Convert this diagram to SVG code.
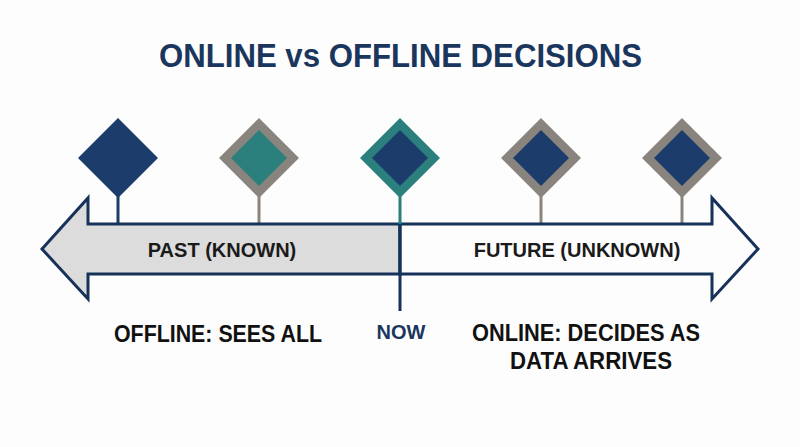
<svg xmlns="http://www.w3.org/2000/svg" width="800" height="447" viewBox="0 0 800 447">
<style>
.title{font-family:"Liberation Sans",Arial,sans-serif;font-weight:bold;font-size:33px;fill:#1b365d;text-anchor:middle}
.lbl{font-family:"Liberation Sans",Arial,sans-serif;font-weight:bold;font-size:20px;fill:#1a1a1a;text-anchor:middle}
.cap{font-family:"Liberation Sans",Arial,sans-serif;font-weight:bold;font-size:23px;fill:#111;text-anchor:middle}
.now{font-family:"Liberation Sans",Arial,sans-serif;font-weight:bold;font-size:20px;fill:#1b365d;text-anchor:middle}
.arrow{stroke:#17325a;stroke-width:3;stroke-linejoin:miter}
.navy{fill:#1c3d6b}
.teal{fill:#2b7f7c}
.gray{fill:#8a847e}
.stem{stroke-width:3}
</style>
<rect width="800" height="447" fill="#fdfdfd"/>
<text class="title" x="400.5" y="67" textLength="483" lengthAdjust="spacingAndGlyphs">ONLINE vs OFFLINE DECISIONS</text>
<g id="connectors">
<line class="stem" x1="118" y1="195" x2="118" y2="224" stroke="#1c3d6b"/>
<line class="stem" x1="259" y1="195" x2="259" y2="224" stroke="#8a847e"/>
<line class="stem" x1="541" y1="195" x2="541" y2="224" stroke="#8a847e"/>
<line class="stem" x1="682" y1="195" x2="682" y2="224" stroke="#8a847e"/>
</g>
<g id="past-arrow">
<polygon class="arrow" points="42,249 88,198 88,224 400,224 400,274 88,274 88,299" fill="#dcdcdc"/>
<text class="lbl" x="222" y="257">PAST (KNOWN)</text>
</g>
<g id="future-arrow">
<polygon class="arrow" points="400,224 712,224 712,198 758,249 712,299 712,274 400,274" fill="#fdfdfd"/>
<text class="lbl" x="577" y="257">FUTURE (UNKNOWN)</text>
</g>
<g id="now">
<line x1="400" y1="195" x2="400" y2="224" stroke="#2b7f7c" stroke-width="3"/>
<line x1="400" y1="224" x2="400" y2="311" stroke="#17325a" stroke-width="3"/>
<text class="now" x="401" y="339">NOW</text>
</g>
<g id="d1"><polygon class="navy" points="118,118 158,158 118,198 78,158"/></g>
<g id="d2"><polygon class="gray" points="259,118 299,158 259,198 219,158"/><polygon class="teal" points="259,130 287,158 259,186 231,158"/></g>
<g id="d3"><polygon class="teal" points="400,118 440,158 400,198 360,158"/><polygon class="navy" points="400,130 428,158 400,186 372,158"/></g>
<g id="d4"><polygon class="gray" points="541,118 581,158 541,198 501,158"/><polygon class="navy" points="541,130 569,158 541,186 513,158"/></g>
<g id="d5"><polygon class="gray" points="682,118 722,158 682,198 642,158"/><polygon class="navy" points="682,130 710,158 682,186 654,158"/></g>
<g id="offline"><text class="cap" x="218" y="342" textLength="208" lengthAdjust="spacingAndGlyphs">OFFLINE: SEES ALL</text></g>
<g id="online"><text class="cap" x="586" y="341" textLength="228" lengthAdjust="spacingAndGlyphs">ONLINE: DECIDES AS</text><text class="cap" x="591" y="369" textLength="162" lengthAdjust="spacingAndGlyphs">DATA ARRIVES</text></g>
</svg>
